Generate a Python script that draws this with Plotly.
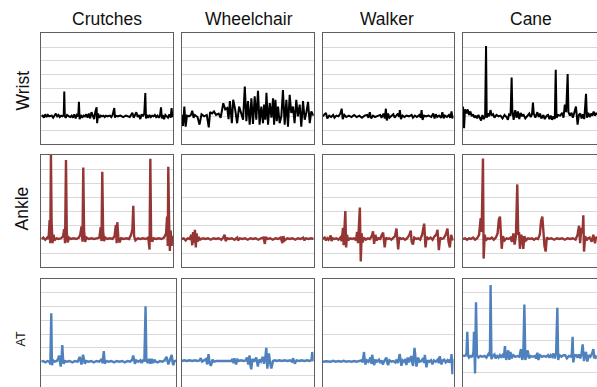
import plotly.graph_objects as go

devices = ["Crutches", "Wheelchair", "Walker", "Cane"]
sensors = ["Wrist", "Ankle", "AT"]

# (time %, signal) pairs, per sensor/device
wrist_crutches = [(0,0),(1,0.05),(2,-0.1),(3,0.15),(4,-0.05),(5,0.1),(6,0),(8,0.05),(9,-0.1),(10,0.05),(11,0.2),(12,0),(13,0.1),(14,-0.05),(15,0.05),(16,0),(17,0.1),(17.4,1.8),(17.8,0),(18.5,-0.1),(19.5,0.1),(21,0),(22,-0.05),(23,0.05),(24,-0.1),(25,0.15),(26,-0.15),(27,0.1),(28,0),(28.5,1.05),(29,-0.2),(30,0.1),(31,-0.1),(32,0.05),(33,0),(34,0.15),(35,-0.1),(36,0.2),(37,-0.15),(38,0.3),(39,0.1),(40,-0.2),(41,0.35),(41.9,0.65),(42.3,-0.5),(43,0.2),(44,-0.1),(45,0.05),(46,0),(47,0.05),(48,-0.05),(49,0.05),(50,0),(52,0.05),(53,-0.05),(54,0.1),(55.3,0.6),(55.8,-0.1),(56.5,0.05),(58,0),(60,0.05),(62,-0.05),(64,0.05),(66,0),(67,-0.05),(68,0.1),(69,0.25),(70,-0.1),(71,0.15),(72,0.3),(73,-0.05),(74,0.1),(75,-0.2),(76,0.15),(77,0),(78,0.2),(78.8,1.68),(79.3,-0.15),(80,0.1),(81,-0.1),(82,0.1),(83,-0.05),(84,0.05),(85,0),(86,0.1),(87,-0.05),(88,0.05),(89,-0.1),(90,0.1),(90.7,0.65),(91.3,-0.15),(92,0.1),(93,-0.2),(94,0.1),(95,0),(96,-0.1),(97,0.15),(98,-0.1),(98.7,0.6),(99.3,-0.05),(100,0.05)]

wrist_wheelchair = [(0,0.1),(1,-0.7),(2,0.7),(3,-0.75),(4,0.05),(5.5,0),(7,0.1),(8,0.4),(9,-0.1),(10,0.1),(12,-0.05),(13.5,-0.6),(15,0.15),(17,0),(19,0.1),(20.5,-0.8),(21.5,0.3),(23,0.2),(24.5,0.35),(26,0.1),(28,0.2),(29.5,-0.1),(31.5,0.95),(33,0.5),(34.5,0.6),(35.5,-0.2),(36.5,1.1),(38,-0.5),(39,1.2),(40.5,0.5),(42,-0.5),(43.5,0.7),(45,0.25),(46.5,-0.25),(47.8,2.15),(49,-0.35),(50.2,1.1),(51.5,-0.6),(52.8,1.3),(54,-0.55),(55.3,1.45),(56.5,-0.25),(57.8,1.85),(59,-0.6),(60.3,0.7),(61.6,-0.5),(62.4,0.85),(63.4,-0.25),(64.2,1.7),(65.4,-0.6),(66.7,0.95),(68,-0.1),(69.2,1.3),(70,-0.6),(71,1.2),(72,-0.35),(73,0.7),(74.2,-0.5),(75.5,0),(76.7,1.9),(78,-0.6),(79.3,1.2),(80.5,-0.75),(81.8,1.55),(83,0.25),(84.3,0.7),(85.5,-0.5),(86.8,1.2),(88,0),(89.4,0.85),(90.6,-0.75),(91.9,1.1),(93.2,-0.25),(94.4,0.25),(95.7,1.05),(97,-0.5),(98.2,0.35),(99.4,0.1),(100,0.05)]

wrist_walker = [(0,0),(1,0.1),(2.5,0.25),(3.5,-0.15),(5,0.05),(6.5,-0.05),(8,0.1),(9,-0.1),(10.5,0.05),(12,0),(13.5,0.2),(14.5,0.55),(15.3,-0.2),(16.5,0.1),(18,-0.05),(20,0.05),(22,-0.05),(24,0.1),(26,-0.05),(28,0.05),(30,-0.1),(32,0.05),(34,0.1),(35,-0.1),(36,0.3),(37,-0.15),(38.5,0.05),(40,-0.05),(42,0.05),(44,0.1),(45,-0.1),(46.5,0.2),(47.5,-0.15),(48.3,0.55),(49,-0.3),(50,0.2),(51,-0.1),(52.5,0.05),(54,0.15),(55,-0.1),(56,0.05),(57.5,0.2),(58.3,-0.05),(59,0.45),(59.8,-0.2),(61,0.05),(62.5,-0.05),(64,0.05),(66,0),(68,0.1),(69,-0.1),(70.5,0.05),(72,-0.05),(74,0.1),(75,-0.1),(75.6,0.45),(76.3,-0.25),(77.5,0.05),(79,0),(81,0.05),(83,-0.05),(84.5,0.2),(85.5,-0.15),(86.5,0.15),(87.5,-0.05),(89,0.05),(90.5,-0.1),(91.5,0.3),(92.5,-0.15),(93.5,0.05),(95,-0.05),(96.5,0.1),(97.5,-0.1),(98.5,0.35),(99.2,-0.15),(100,0.05)]

wrist_cane = [(0,0.7),(0.8,-0.85),(1.5,0.5),(2.5,0.2),(3.5,0.5),(4.5,0.1),(5.5,0.35),(6.5,0),(7.5,0.15),(8.5,-0.1),(9.5,0.05),(10.5,-0.15),(11.5,0.1),(12.5,-0.05),(13.5,-0.3),(14.5,0.1),(15.5,-0.2),(16.5,0),(17.2,5.08),(17.7,-0.1),(18.5,0.2),(19.5,0),(20.5,0.45),(21.5,0.05),(22.5,0.15),(23.5,-0.1),(25,0.1),(26.5,0),(28,0.05),(29.5,-0.15),(31,0.1),(32.5,-0.05),(33.5,-0.25),(34.5,0.2),(35.5,0.05),(36.3,2.8),(36.8,0.45),(37.8,-0.25),(39,0.45),(40,-0.1),(41,0.35),(42,-0.2),(43,0.25),(44,0),(45,0.15),(46.5,-0.15),(48,0.05),(49.5,0.2),(50.5,-0.05),(51.5,0.15),(52.2,1.0),(52.8,0.2),(54,-0.1),(55.5,0.3),(56.5,-0.05),(57.5,0.2),(58.5,-0.15),(60,0.1),(61,-0.2),(62.5,0.05),(63.5,0.1),(64.5,-0.2),(65.5,0.05),(66.5,-0.25),(67.5,0),(68.5,-0.2),(69.2,3.36),(69.8,-0.1),(71,0.1),(72.5,0.05),(74,0.25),(75,-0.1),(76,0.85),(77,0.3),(78.1,3.05),(78.7,0.3),(79.8,0.05),(81,0.25),(82,-0.1),(83,0.25),(84.3,0.7),(85.5,-0.6),(86.5,0.1),(87.5,0.2),(88.5,-0.15),(89.5,0.15),(90.5,-0.2),(91.8,1.63),(92.5,-0.1),(93.5,0.25),(94.5,-0.05),(95.5,0.2),(96.5,0.05),(97.5,0.35),(98.5,0.05),(99.5,0.25),(100,0.1)]

ankle_crutches = [(0,0),(1.5,0.1),(3,-0.05),(4.5,0.1),(5.5,0),(6.3,1.35),(6.8,-0.3),(7.3,6.0),(7.8,1.2),(8.5,-0.3),(9.3,0.3),(10,-0.1),(11.5,0.05),(13,0),(15,0.05),(16.5,0.2),(17.3,0.7),(18,-0.3),(18.7,5.64),(19.3,0.5),(20,-0.25),(21,0.1),(22.5,0),(24.5,0.05),(26.5,0),(28.5,0.1),(29.5,0.3),(30.5,0.9),(31.2,-0.2),(31.8,5.1),(32.4,0.6),(33.2,-0.2),(34.3,0.1),(36,0),(38,0.05),(40,0),(42,0.05),(44,0.1),(45,0.85),(45.6,-0.15),(46.2,4.8),(46.8,0.6),(47.5,-0.15),(48.5,0.1),(50,0),(52,0.05),(54,0),(55.5,0.2),(56.5,1.0),(57.1,-0.3),(57.6,1.2),(58.3,0.2),(59.2,-0.25),(60.5,0.05),(62.5,0),(64.5,0.05),(66.5,0),(68,0.3),(69,0.7),(69.7,2.37),(70.3,0.2),(71.3,-0.1),(73,0.05),(75,0),(77,0.05),(79,0),(81,0.1),(82,-0.75),(82.6,5.73),(83.2,0.1),(84,-0.2),(85,0.05),(87,0),(89,0.05),(91,0),(93,0.1),(94.5,0.4),(95.3,1.6),(95.8,-0.5),(96.2,5.16),(96.8,1.3),(97.4,-0.85),(98,0.6),(98.7,-0.5),(99.3,0.2),(100,0)]

ankle_wheelchair = [(0,0),(1.5,0.05),(3,-0.1),(4.5,0.05),(6,0),(7.3,0.3),(8,-0.45),(8.6,0.5),(9.2,-0.3),(10,0.65),(10.7,-0.6),(11.3,0.4),(12,-0.2),(13,0.15),(14,-0.05),(16,0.05),(18,0),(20,0.05),(22,-0.05),(24,0.05),(26,0),(28,0.05),(30,-0.05),(31.5,0.1),(32.5,0.3),(33.3,-0.15),(34.5,0.05),(36,0),(38,0.05),(40,-0.05),(42,0.1),(42.7,-0.1),(44,0.05),(46,0),(48,0.05),(50,-0.05),(52,0.05),(54,0),(56,0.05),(58,-0.05),(60,0.05),(62,0.1),(63,-0.35),(63.7,0.15),(65,0),(67,0.05),(69,-0.05),(71,0.05),(73,0),(75,0.1),(76.3,-0.3),(77,0.2),(78,-0.1),(80,0.05),(82,0),(84,0.05),(86,-0.05),(88,0.05),(90,0),(92,0.1),(93,-0.1),(94,0.05),(96,0),(98,0.05),(100,0)]

ankle_walker = [(0,0),(1.5,0.1),(2.5,-0.1),(3.5,0.05),(4.5,-0.05),(5.5,0.1),(6.1,0.25),(6.8,-0.15),(7.8,0.05),(9,0),(10.5,0.05),(12,-0.05),(13.5,0.1),(14.5,-0.15),(15.5,0.8),(16,-0.45),(16.6,0.5),(17.3,2.0),(17.9,-0.6),(18.6,0.3),(19.5,-0.1),(21,0.05),(22.5,0),(24,0.05),(25.5,-0.1),(26.3,0.5),(27,-0.3),(27.6,0.55),(28.4,2.25),(29.1,-1.6),(29.8,0.4),(30.5,-0.25),(31.5,0.1),(33,-0.05),(34.5,0.05),(36,0),(37.5,0.2),(38.5,0.55),(39.3,-0.35),(40.3,0.3),(41.3,-0.1),(42.5,0.05),(44,0),(45.2,0.3),(46.2,0.45),(47.4,-0.6),(48.3,0.1),(49.5,0),(51,0.05),(52.5,-0.05),(54,0.05),(55.3,0.2),(56.4,0.75),(57.1,-0.3),(57.7,-0.75),(58.5,0.1),(60,0),(61.5,0.05),(63,-0.05),(64.5,0.05),(66.3,0.3),(67.3,0.6),(68,-0.2),(69,-0.4),(70,0.1),(71.5,0),(73,0.05),(74.5,-0.05),(76,0.3),(77.6,1.1),(78.2,0.2),(78.6,-0.6),(79.5,0.15),(81,0),(82.5,0.1),(84,-0.05),(85.5,0.2),(86.8,0.3),(87.8,0.65),(88.4,-0.3),(88.8,-0.8),(89.8,0.1),(91,0),(92.5,0.05),(94,0.3),(95.4,0.75),(96.2,-0.2),(97.2,-0.6),(98.2,0.3),(99,0.05),(100,-0.1)]

ankle_cane = [(0,0),(1.5,0.05),(3,-0.05),(4.5,0.05),(6,0),(7.5,0.1),(9,-0.05),(10.5,0.05),(12,0.3),(13.2,1.5),(13.9,0.5),(14.9,5.75),(15.4,-1.4),(16.2,0.3),(17,-0.1),(18.5,0.05),(20,0),(21.5,0.1),(23,-0.05),(24.5,0.1),(25.8,0.4),(26.8,1.4),(27.6,1.6),(28.2,0.6),(28.9,-0.7),(29.8,0.2),(31,-0.1),(32.5,0.05),(34,0),(35.5,0.1),(36.5,-0.2),(37.6,0.4),(38.5,-0.4),(39.5,0.2),(40.5,3.9),(41.2,0.3),(41.8,0.5),(42.5,-0.7),(43.3,0.3),(44.2,0.1),(45,-0.7),(45.8,0.2),(47,-0.1),(48.5,0.05),(50,0),(51.5,0.05),(53,-0.05),(54.5,0.05),(56,0),(57.3,0.3),(58.3,1.3),(59.2,1.6),(59.9,0.3),(60.8,-0.5),(61.7,-0.9),(62.5,0.1),(64,0),(66,0.05),(68,-0.05),(70,0.05),(72,0),(74,0.05),(76,-0.05),(78,0.05),(80,0),(82,0.05),(84,-0.05),(85.5,0.3),(86.6,0.95),(87.4,-0.3),(88.3,0.8),(89.2,0.4),(89.8,1.7),(90.3,-0.9),(91.2,0.2),(92.2,-0.1),(93.3,0.05),(94.5,0.1),(96,-0.2),(97.3,0.3),(98.5,-0.3),(99.3,0.15),(100,0.05)]

at_crutches = [(0,0),(1.5,0.05),(3,-0.05),(4.5,0.05),(6,0),(6.7,-0.2),(7.4,3.5),(7.9,-0.25),(8.8,0.1),(10,0),(11.5,0.05),(12.5,0.2),(13.2,0.45),(14,-0.2),(14.4,-0.35),(15,0.2),(15.6,1.2),(16.2,0.1),(16.6,-0.15),(17.5,0.05),(19,0),(21,0.05),(23,-0.05),(25,0.05),(27,0),(28.5,0.35),(29.3,-0.05),(29.8,-0.2),(31,0.5),(31.7,0),(32.3,-0.15),(33.3,0.05),(35,0),(37,0.05),(39,-0.05),(41,0.05),(43,0),(44,0.1),(44.7,0.2),(45.5,-0.1),(46.4,0.77),(47.1,-0.15),(48,0.05),(50,0),(52,0.05),(54,-0.05),(56,0.05),(58,0),(60,0.05),(62,-0.05),(64,0.05),(66,0),(67.5,0.15),(68.2,0.45),(69,-0.1),(69.5,-0.15),(70.5,0.1),(72,0),(73.5,0.1),(74.5,-0.1),(75.5,0.15),(76.5,0),(77.4,4.0),(78,0.1),(79,-0.1),(80,0.2),(81,-0.15),(82,0.2),(83,-0.1),(84,0.15),(85,0),(86.5,-0.05),(88,0.05),(90,0),(91.5,0.1),(93,0.35),(94.3,-0.2),(95.3,0.1),(96.8,0.5),(97.5,-0.05),(98,-0.25),(99,0.1),(100,0)]

at_wheelchair = [(0,0.05),(2,0.1),(4,0.05),(6,0.1),(8,0.05),(10,0.1),(12,0.05),(13.5,0.1),(14.5,0.25),(15.5,0),(17,0.1),(18.5,0.2),(19.3,-0.2),(20.3,0.55),(21.2,-0.1),(22.1,-0.3),(23.4,0.15),(24.5,0),(26,0.05),(28,0.05),(30,0.1),(32,0.05),(34,0.05),(36,0.1),(37.5,0.05),(38.5,0.2),(39.3,-0.1),(39.9,0.25),(40.5,0),(41.2,-0.2),(42.2,0.15),(43.5,0.05),(45,0.1),(47,0.05),(48.5,0.1),(49.5,0.3),(50.4,-0.2),(51.4,0.45),(52.1,-0.3),(52.7,-0.55),(53.6,0.2),(54.8,0),(56.5,0.3),(57.1,-0.05),(57.7,-0.35),(58.7,0.15),(60,0),(61,0.25),(61.5,0.35),(62.4,-0.15),(63.3,0.3),(64.1,1.0),(64.9,-0.5),(65.5,0.2),(66.1,0.6),(67,-0.1),(67.9,-0.5),(69.2,0.05),(70.5,0.1),(72,0.05),(74,0.1),(76,0.05),(78,0.1),(80,0.05),(82,0.1),(83.5,0),(84.4,0.25),(85.7,-0.15),(87,0.1),(89,0.05),(91,0.1),(93,0.05),(95,0.1),(97,0.05),(98.4,0.15),(98.9,0.7),(99.5,0.1),(100,0.05)]

at_walker = [(0,0),(3,0.03),(6,0),(8,0.06),(10,0),(12,0.05),(14,0),(16,0.06),(18,0),(20,0.04),(22,0),(24,0.05),(26,0),(28,0.04),(29.5,0.1),(30.5,-0.05),(31.6,0.7),(32.2,0.05),(32.7,-0.2),(33.8,0.1),(35,0),(36.5,0.3),(37.3,-0.15),(37.8,0.5),(38.5,0.1),(39.3,-0.25),(40.3,0.15),(41.5,0),(43,0.15),(44,-0.1),(45,0.1),(46,-0.2),(47,0.05),(48,0.15),(48.7,0.3),(49.4,-0.1),(50,-0.25),(51,0.1),(52.5,0),(54,0.05),(55.5,-0.05),(56.5,0.15),(57.5,-0.1),(58.9,0.55),(59.5,0.1),(60.2,-0.3),(61.2,0.1),(62.5,0),(63.3,0.2),(64,-0.25),(65,0.3),(66,-0.05),(67.2,0.3),(67.9,0.4),(68.5,-0.1),(69.1,-0.3),(70.2,1.0),(70.9,0.1),(71.7,-0.35),(72.4,0.05),(73,0.3),(74,0),(75.5,0.05),(76.8,0.25),(77.5,-0.1),(78.1,0.5),(78.7,-0.1),(79.3,-0.4),(80.3,0.1),(81.5,0),(82.8,0.1),(83.9,-0.2),(85,0.1),(86.5,0),(88,0.15),(88.8,-0.1),(89.5,0.4),(90.2,-0.1),(90.8,-0.2),(91.8,0.1),(92.9,0.15),(94,-0.05),(95.3,0.1),(96.2,-0.05),(97.2,0.15),(97.8,-0.1),(98.5,0.55),(99.2,-0.9),(99.6,0.2),(100,-0.2)]

at_cane = [(0,0.1),(1,0.05),(2,0.1),(2.6,0.2),(3.2,1.56),(3.8,0.05),(4.5,-0.05),(5.5,0.05),(6.5,0),(7.3,0.1),(7.8,0.3),(8.2,1.56),(9,-1.04),(9.7,3.4),(10.4,0.1),(11.5,-0.05),(13,0.05),(14.5,0),(16,0.05),(17.5,-0.05),(18.8,0.15),(19.7,0.27),(20.1,0.05),(20.6,4.48),(21.2,-0.15),(22.2,0.05),(23.5,0.15),(24.3,-0.1),(25.5,0.05),(26.5,-0.05),(27.5,0.1),(28.5,0),(29.5,0.1),(30.5,-0.05),(31.3,0.67),(32.2,-0.2),(33,0.1),(33.8,0.4),(34.6,-0.2),(35.4,0.3),(36.2,-0.1),(37.5,0.1),(39,0),(40.5,0.05),(42,0),(43.3,0.48),(44.2,-0.2),(45,0.1),(45.8,3.27),(46.5,-0.2),(47.5,0.1),(48.3,0.4),(49.3,-0.1),(50.5,0.05),(52,0),(53.5,0.05),(54.5,-0.1),(55.5,0.25),(56.3,-0.2),(57.5,0.1),(59,0),(60.5,0.05),(62,0),(63.5,0.1),(64.5,-0.05),(65.5,0.1),(66.5,0),(67.5,0.2),(68.5,-0.1),(69.5,0.25),(70.4,3.06),(71,-0.2),(72,0.1),(73.5,0),(75,0.1),(76.3,0.1),(77.5,-0.1),(79,0.05),(80.5,0),(81.2,0.2),(81.8,1.25),(82.3,-0.35),(83.3,0.1),(84.5,0.1),(85.5,-0.05),(86.5,0.15),(87.5,-0.1),(88.5,0.2),(89.3,0.77),(90.3,-0.27),(91,0.1),(91.8,0.3),(92.8,-0.3),(93.8,0.1),(95,0),(96.3,0.2),(97.3,0.48),(97.9,-0.1),(98.5,0.1),(99.3,-0.05),(100,0.0)]

signals = [
    [wrist_crutches, wrist_wheelchair, wrist_walker, wrist_cane],
    [ankle_crutches, ankle_wheelchair, ankle_walker, ankle_cane],
    [at_crutches, at_wheelchair, at_walker, at_cane],
]

# ---------------- styling / layout ----------------
W, H = 597, 387
line_colors = ["#000000", "#963634", "#4f81bd"]
line_widths = [2.0, 2.4, 2.4]
col_px = [(41.3, 173.3), (181.7, 313.7), (322.7, 453.5), (463.0, 597.0)]
row_px = [(33.3, 144.0), (155.0, 267.0), (279.0, 387.0)]
border = "#5f5f5f"
grid = "#d9d9d9"

fig = go.Figure()
layout = dict(width=W, height=H, margin=dict(l=0, r=0, t=0, b=0),
              paper_bgcolor="white", plot_bgcolor="white", showlegend=False)

for r in range(3):
    for c in range(4):
        i = r * 4 + c + 1
        sfx = "" if i == 1 else str(i)
        pts = signals[r][c]
        xs = [p[0] for p in pts]
        ys = [p[1] for p in pts]
        fig.add_trace(go.Scatter(x=xs, y=ys, mode="lines",
                                 line=dict(color=line_colors[r], width=line_widths[r]),
                                 xaxis="x" + sfx, yaxis="y" + sfx, hoverinfo="skip"))
        x0, x1 = col_px[c]
        if r == 2 and c == 0:
            x1 = 176.0
        y0, y1 = row_px[r]
        xdom = [x0 / W, min(x1 / W, 1.0)]
        ydom = [1 - y1 / H, 1 - y0 / H]
        if r < 2:
            yr = [-2, 6]
        elif c == 3:
            yr = [-1.89, 4.86]
        else:
            yr = [-1.83, 5.98]
        dt = 2 if (r == 2 and c == 2) else 1
        xa = dict(domain=xdom, range=[0, 100], anchor="y" + sfx, showgrid=False,
                  zeroline=False, showticklabels=False, ticks="",
                  showline=True, linecolor=border, linewidth=1.2, fixedrange=True)
        if r < 2:
            xa["mirror"] = True
        else:
            xa["side"] = "top"
            xa["mirror"] = False
        ya = dict(domain=ydom, range=yr, anchor="x" + sfx, showgrid=True,
                  gridcolor=grid, gridwidth=1, dtick=dt, tick0=0,
                  zeroline=False, showticklabels=False, ticks="",
                  showline=True, linecolor=border, linewidth=1.2,
                  mirror=(c != 3), fixedrange=True)
        layout["xaxis" + sfx] = xa
        layout["yaxis" + sfx] = ya

font_family = "Liberation Sans, Arial, sans-serif"
annotations = []
col_title_px = [106.5, 248.5, 386.5, 530.5]
for name, cx in zip(devices, col_title_px):
    annotations.append(dict(text=name, x=cx / W, y=1 - 18.5 / H, xref="paper", yref="paper",
                            xanchor="center", yanchor="middle", showarrow=False,
                            font=dict(family=font_family, size=17.5, color="#111111")))
row_label = [("Wrist", 22.0, 90.5, 17.5), ("Ankle", 22.0, 208.5, 17.5), ("AT", 20.5, 339.0, 12.5)]
for name, px, py, sz in row_label:
    annotations.append(dict(text=name, x=px / W, y=1 - py / H, xref="paper", yref="paper",
                            xanchor="center", yanchor="middle", showarrow=False, textangle=-90,
                            font=dict(family=font_family, size=sz, color="#111111")))
layout["annotations"] = annotations

fig.update_layout(**layout)
fig.write_html("out.html", config={"displayModeBar": False},
               post_script="document.body.style.margin='0';document.body.style.overflow='hidden';")
